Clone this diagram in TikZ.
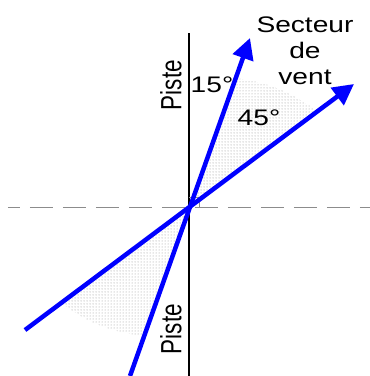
\documentclass[tikz,border=0pt]{standalone}
\usepackage{fontspec}
\setmainfont{Liberation Sans}
\usetikzlibrary{arrows.meta,calc,patterns}
\definecolor{windblue}{RGB}{0,0,255}
\definecolor{sectorgray}{RGB}{150,150,150}
\definecolor{axisgray}{RGB}{140,140,140}
\tikzset{
  wind/.style={
    draw=windblue,
    line width=4.5pt,
    -{Triangle[length=21pt,width=21pt]}
  },
  runway/.style={draw=black, line width=1.5pt},
  axis-dash/.style={
    draw=axisgray,
    line width=1pt,
    dash pattern=on 23pt off 10pt,
    dash phase=11pt
  },
  sector/.style={pattern=dots, pattern color=sectorgray, draw=none},
  label-text/.style={
    font=\fontsize{22.5}{26}\selectfont,
    inner sep=0pt,
    align=center
  },
  wide/.style={xscale=1.25},
  wide-up/.style={rotate=90, yscale=1.3}
}
\newcommand{\windframe}{%
  \useasboundingbox (-189,-169) rectangle (181,207);
}

\begin{document}
\begin{tikzpicture}[x=1pt,y=1pt]
  \windframe
  \coordinate (O) at (0,0);
  \coordinate (runway-top) at (0,174);
  \coordinate (runway-bot) at (0,-169);
  \coordinate (dash-left) at (-181,0);
  \coordinate (dash-right) at (181,0);
  % wind sector, both sides
  \fill[sector] (O) -- (36.7:160) to[bend right=14] (70.2:137) -- cycle;
  \fill[sector] (O) -- (216.7:160) to[bend right=14] (250.2:137) -- cycle;
  \draw[axis-dash] (dash-left) -- (dash-right);
  \draw[runway] (runway-bot) -- (runway-top);
  \draw[axisgray, line width=0.6pt] (0,10) -- (10,10) -- (10,0);
  \coordinate (low15) at (-59,-169);
  \coordinate (up15) at (61,169);
  \coordinate (low45) at (-164,-123);
  \coordinate (up45) at (165,123);
  \draw[wind] (low15) -- (up15);
  \draw[wind] (low45) -- (up45);
  \node[label-text, wide-up] (piste-top) at (-18,122) {Piste};
  \node[label-text, wide-up] (piste-bot) at (-18,-122) {Piste};
  \node[label-text, wide] (deg15) at (23,122) {15°};
  \node[label-text, wide] (deg45) at (70,89) {45°};
  \node[label-text, wide] (secteur) at (116,156) {Secteur\\de\\vent};
\end{tikzpicture}
\end{document}
